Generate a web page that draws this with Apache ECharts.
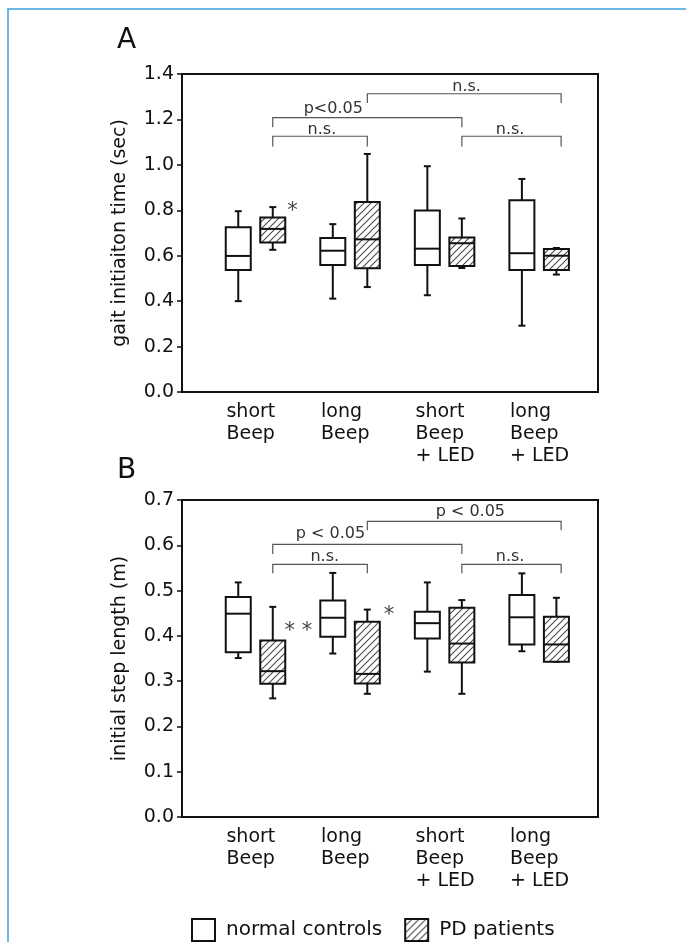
<!DOCTYPE html>
<html>
<head>
<meta charset="utf-8">
<script src="https://cdn.jsdelivr.net/npm/echarts@6/dist/echarts.min.js"></script>
<style>
html, body { margin: 0; padding: 0; background: #fff; }
#chart { width: 686px; height: 942px; }
</style>
</head>
<body>
<div id="chart"></div>
<script>
// categories along x, labels wrap onto several lines
const categories = ['short\nBeep', 'long\nBeep', 'short\nBeep\n+ LED', 'long\nBeep\n+ LED']
const groupNames = ['normal controls', 'PD patients']

// each box: [whisker low, q1, median, q3, whisker high]
const gaitControls = [[0.400, 0.537, 0.599, 0.725, 0.796], [0.411, 0.559, 0.622, 0.678, 0.739], [0.426, 0.559, 0.631, 0.799, 0.994], [0.292, 0.537, 0.611, 0.844, 0.938]]
const gaitPD = [[0.626, 0.658, 0.718, 0.768, 0.814], [0.462, 0.545, 0.672, 0.836, 1.048], [0.546, 0.555, 0.655, 0.680, 0.764], [0.517, 0.537, 0.600, 0.630, 0.634]]
const stepControls = [[0.351, 0.364, 0.449, 0.486, 0.518], [0.361, 0.398, 0.440, 0.478, 0.539], [0.321, 0.394, 0.428, 0.453, 0.518], [0.366, 0.381, 0.441, 0.490, 0.538]]
const stepPD = [[0.262, 0.294, 0.322, 0.390, 0.464], [0.272, 0.295, 0.316, 0.431, 0.458], [0.272, 0.341, 0.383, 0.462, 0.479], [0.343, 0.343, 0.381, 0.442, 0.484]]

// brackets: [x from, x to, y line, y tip, label, label x, label y]
const gaitBrackets = [
    [2.18, 4.23, 1.313, 1.272, 'n.s.', 3.23, 1.345],
    [1.18, 3.18, 1.208, 1.166, 'p<0.05', 1.82, 1.245],
    [1.18, 2.18, 1.126, 1.081, 'n.s.', 1.70, 1.154],
    [3.18, 4.23, 1.126, 1.081, 'n.s.', 3.69, 1.154]
]
const stepBrackets = [
    [2.18, 4.23, 0.653, 0.633, 'p < 0.05', 3.27, 0.673],
    [1.18, 3.18, 0.602, 0.581, 'p < 0.05', 1.79, 0.625],
    [1.18, 2.18, 0.558, 0.538, 'n.s.', 1.73, 0.575],
    [3.18, 4.23, 0.558, 0.538, 'n.s.', 3.69, 0.575]
]
// asterisks: [x, y, text]
const gaitStars = [[1.39, 0.794, '*']]
const stepStars = [[1.45, 0.409, '* *'], [2.41, 0.444, '*']]

const font = 'DejaVu Sans'
const ink = '#111'
const ctrlOffset = -0.185
const pdOffset = 0.18
const labelShift = 0.31

function makeHatch() {
    const c = document.createElement('canvas')
    c.width = 7
    c.height = 7
    const g = c.getContext('2d')
    g.fillStyle = '#fff'
    g.fillRect(0, 0, 7, 7)
    g.strokeStyle = '#4a4a4a'
    g.lineWidth = 1.1
    g.beginPath()
    g.moveTo(0, 7); g.lineTo(7, 0)
    g.moveTo(-1, 1); g.lineTo(1, -1)
    g.moveTo(6, 8); g.lineTo(8, 6)
    g.stroke()
    return c
}
const hatch = { image: makeHatch(), repeat: 'repeat' }

function boxData(rows, offset) {
    return rows.map((r, i) => [i + 1 + offset].concat(r))
}

function renderBox(fill) {
    return function (params, api) {
        const x = api.value(0)
        const lo = api.coord([x, api.value(1)])
        const q1 = api.coord([x, api.value(2)])
        const md = api.coord([x, api.value(3)])
        const q3 = api.coord([x, api.value(4)])
        const hi = api.coord([x, api.value(5)])
        const cx = lo[0]
        const half = 12.5
        const cap = 3.5
        const ls = { stroke: ink, lineWidth: 2 }
        return {
            type: 'group',
            children: [
                { type: 'line', shape: { x1: cx, y1: hi[1], x2: cx, y2: q3[1] }, style: ls },
                { type: 'line', shape: { x1: cx - cap, y1: hi[1], x2: cx + cap, y2: hi[1] }, style: ls },
                { type: 'line', shape: { x1: cx, y1: q1[1], x2: cx, y2: lo[1] }, style: ls },
                { type: 'line', shape: { x1: cx - cap, y1: lo[1], x2: cx + cap, y2: lo[1] }, style: ls },
                { type: 'rect', shape: { x: cx - half, y: q3[1], width: half * 2, height: q1[1] - q3[1] }, style: { fill: fill, stroke: ink, lineWidth: 2 } },
                { type: 'line', shape: { x1: cx - half, y1: md[1], x2: cx + half, y2: md[1] }, style: ls }
            ]
        }
    }
}

function renderBracket(params, api) {
    const a = api.coord([api.value(0), api.value(2)])
    const b = api.coord([api.value(1), api.value(2)])
    const tip = api.coord([api.value(0), api.value(3)])
    const t = api.coord([api.value(5), api.value(6)])
    return {
        type: 'group',
        children: [
            { type: 'polyline', shape: { points: [[a[0], tip[1]], a, b, [b[0], tip[1]]] }, style: { stroke: '#555', lineWidth: 1.2, fill: 'none' } },
            { type: 'text', x: t[0], y: t[1], style: { text: api.value(4), font: '16px "' + font + '"', fill: '#333', align: 'center', verticalAlign: 'middle' } }
        ]
    }
}

function renderStar(params, api) {
    const p = api.coord([api.value(0), api.value(1)])
    return { type: 'text', x: p[0], y: p[1], style: { text: api.value(2), font: '21px "' + font + '"', fill: '#444', align: 'center', verticalAlign: 'middle' } }
}

function xAxis(gridIndex) {
    return {
        type: 'value', gridIndex: gridIndex, min: 0.22, max: 4.62,
        splitLine: { show: false },
        axisTick: { show: false },
        axisLine: { lineStyle: { color: ink, width: 2 } },
        axisLabel: {
            customValues: categories.map((c, i) => i + 1 - labelShift),
            formatter: v => categories[Math.round(v + labelShift) - 1],
            align: 'left', color: ink, fontFamily: font, fontSize: 19, lineHeight: 22, margin: 9
        }
    }
}

function yAxis(gridIndex, max, interval, name) {
    return {
        type: 'value', gridIndex: gridIndex, min: 0, max: max, interval: interval,
        name: name, nameLocation: 'middle', nameGap: 52,
        nameTextStyle: { color: ink, fontFamily: font, fontSize: 19 },
        splitLine: { show: false },
        axisLine: { show: true, lineStyle: { color: ink, width: 2 } },
        axisTick: { show: true, length: 5, lineStyle: { color: ink, width: 1.5 } },
        axisLabel: { formatter: v => v.toFixed(1), color: ink, fontFamily: font, fontSize: 19, margin: 8 }
    }
}

const chart = echarts.init(document.getElementById('chart'))
const ctrlStyle = { color: '#fff', borderColor: ink, borderWidth: 2 }
const pdStyle = { color: hatch, borderColor: ink, borderWidth: 2 }

const option = {
    animation: false,
    backgroundColor: '#fff',
    graphic: [
        { type: 'rect', shape: { x: 8, y: 9, width: 720, height: 960 }, style: { fill: 'none', stroke: '#3ea2da', lineWidth: 1.5 } }
    ],
    title: [
        { text: 'A', left: 112, top: 22, textStyle: { fontFamily: font, fontSize: 28, fontWeight: 'normal', color: ink } },
        { text: 'B', left: 112, top: 452, textStyle: { fontFamily: font, fontSize: 28, fontWeight: 'normal', color: ink } }
    ],
    legend: {
        data: groupNames, left: 186, top: 913, icon: 'rect',
        itemWidth: 23, itemHeight: 22, itemGap: 22,
        textStyle: { fontFamily: font, fontSize: 20, color: ink, padding: [0, 0, 0, 6] }
    },
    grid: [
        { left: 182, top: 74, width: 416, height: 318, show: true, borderColor: ink, borderWidth: 2 },
        { left: 182, top: 500, width: 416, height: 317, show: true, borderColor: ink, borderWidth: 2 }
    ],
    xAxis: [xAxis(0), xAxis(1)],
    yAxis: [
        yAxis(0, 1.4, 0.2, 'gait initiaiton time (sec)'),
        yAxis(1, 0.7, 0.1, 'initial step length (m)')
    ],
    series: [
        { name: groupNames[0], type: 'custom', xAxisIndex: 0, yAxisIndex: 0, itemStyle: ctrlStyle, renderItem: renderBox('#fff'), data: boxData(gaitControls, ctrlOffset), encode: { x: 0, y: [1, 2, 3, 4, 5] } },
        { name: groupNames[1], type: 'custom', xAxisIndex: 0, yAxisIndex: 0, itemStyle: pdStyle, renderItem: renderBox(hatch), data: boxData(gaitPD, pdOffset), encode: { x: 0, y: [1, 2, 3, 4, 5] } },
        { name: groupNames[0], type: 'custom', xAxisIndex: 1, yAxisIndex: 1, itemStyle: ctrlStyle, renderItem: renderBox('#fff'), data: boxData(stepControls, ctrlOffset), encode: { x: 0, y: [1, 2, 3, 4, 5] } },
        { name: groupNames[1], type: 'custom', xAxisIndex: 1, yAxisIndex: 1, itemStyle: pdStyle, renderItem: renderBox(hatch), data: boxData(stepPD, pdOffset), encode: { x: 0, y: [1, 2, 3, 4, 5] } },
        { name: 'brackets A', type: 'custom', xAxisIndex: 0, yAxisIndex: 0, renderItem: renderBracket, data: gaitBrackets, encode: { x: [0, 1], y: [2, 3] } },
        { name: 'brackets B', type: 'custom', xAxisIndex: 1, yAxisIndex: 1, renderItem: renderBracket, data: stepBrackets, encode: { x: [0, 1], y: [2, 3] } },
        { name: 'stars A', type: 'custom', xAxisIndex: 0, yAxisIndex: 0, renderItem: renderStar, data: gaitStars, encode: { x: 0, y: 1 } },
        { name: 'stars B', type: 'custom', xAxisIndex: 1, yAxisIndex: 1, renderItem: renderStar, data: stepStars, encode: { x: 0, y: 1 } }
    ]
}

chart.setOption(option)
</script>
</body>
</html>
